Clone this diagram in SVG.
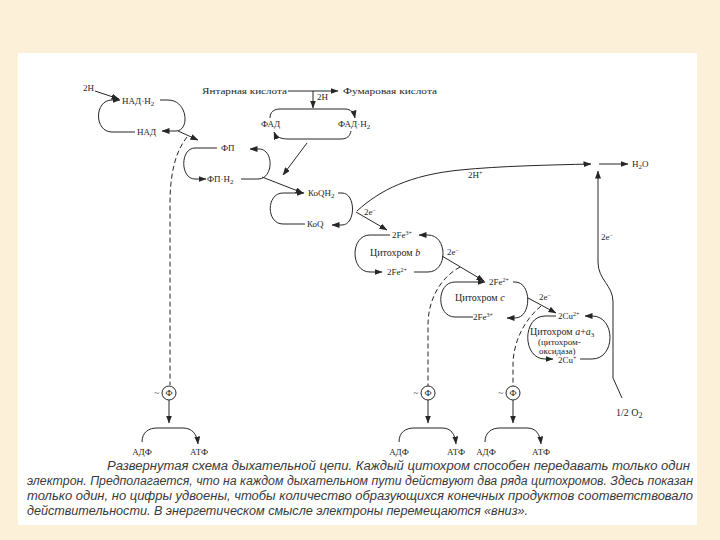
<svg xmlns="http://www.w3.org/2000/svg" width="720" height="540" viewBox="0 0 720 540">
<style>
.l{fill:none;stroke:#262626;stroke-width:1}
.d{stroke-dasharray:5,3}
.a{marker-end:url(#ah)}
.t{font-family:"Liberation Serif",serif;font-size:9px;fill:#262626}
.m{font-family:"Liberation Serif",serif;font-size:10px;fill:#262626}
.c{font-family:"Liberation Sans",Arial,sans-serif;font-size:12px;font-style:italic;fill:#3a3a3a}
.ring{fill:#fff;stroke:#262626;stroke-width:1}
</style>
<defs>
<marker id="ah" markerUnits="userSpaceOnUse" markerWidth="8" markerHeight="6" refX="7.5" refY="3" orient="auto">
<path d="M0,0 L8,3 L0,6 z" fill="#262626"/>
</marker>
</defs>
<rect width="720" height="540" fill="#fdf0d8"/>
<rect x="18" y="53" width="679" height="472" fill="#ffffff"/>

<g id="connectors">
<path class="l a" d="M95,91 L119,99"/>
<path class="l a" d="M178,131 L198,140"/>
<path class="l d" d="M187,137 C173,155 170,180 170,205 L170,385"/>
<path class="l a" d="M288,91 L338,91"/>
<path class="l a" d="M313,91 L313,108"/>
<path class="l a" d="M307,143 L283,175"/>
<path class="l a" d="M262,177 L303,193"/>
<path class="l a" d="M356,212 L387,230"/>
<path class="l a" d="M357,211 C380,190 410,175 460,170 C500,166 550,165 591,164"/>
<path class="l a" d="M599,164 L628,164"/>
<path class="l a" d="M622,398 L613,378 L613,302 C613,285 598,280 598,262 L598,171"/>
<path class="l a" d="M442,256 L484,281"/>
<path class="l d" d="M460,267 C440,278 428,300 428,325 L428,386"/>
<path class="l a" d="M528,298 L556,313"/>
<path class="l d" d="M541,306 C522,322 513,345 513,365 L513,386"/>
</g>

<g id="nad">
<text class="t" x="83" y="91">2H</text>
<text class="t" x="122" y="104">НАД·H<tspan font-size="7" dy="2">2</tspan></text>
<text class="t" x="137" y="135">НАД</text>
<path class="l a" d="M135,132 L112,132 C94,132 94,100 112,100 L120,100"/>
<path class="l a" d="M160,100 L168,100 C188,100 190,131 176,131 L162,131"/>
</g>

<g id="succinate">
<text class="t" x="202" y="94" textLength="85" lengthAdjust="spacingAndGlyphs">Янтарная кислота</text>
<text class="t" x="343" y="94" textLength="94" lengthAdjust="spacingAndGlyphs">Фумаровая кислота</text>
<text class="t" x="317" y="100" font-size="8">2H</text>
</g>

<g id="fad">
<text class="t" x="261" y="127">ФАД</text>
<text class="t" x="338" y="127">ФАД·H<tspan font-size="7" dy="2">2</tspan></text>
<path class="l a" d="M270,118 C270,112 274,109 280,109 L345,109 C351,109 354,113 355,118"/>
<path class="l a" d="M351,131 C350,136 347,139 341,139 L288,139 C281,139 276,137 274,132"/>
</g>

<g id="fp">
<text class="t" x="221" y="151">ФП</text>
<text class="t" x="207" y="182">ФП·H<tspan font-size="7" dy="2">2</tspan></text>
<path class="l a" d="M217,148 L195,148 C180,148 180,179 195,179 L206,179"/>
<path class="l a" d="M241,179 L258,179 C274,179 274,149 259,149 L250,149"/>
</g>

<g id="coq">
<text class="t" x="308" y="196">КоQH<tspan font-size="7" dy="2">2</tspan></text>
<text class="t" x="307" y="227">КоQ</text>
<path class="l a" d="M305,224 L283,224 C266,224 266,193 283,193 L304,193"/>
<path class="l a" d="M338,193 L342,193 C356,193 356,225 342,225 L332,225"/>
<text class="t" x="364" y="215" font-size="8">2e<tspan dy="-3" font-size="6">−</tspan></text>
<text class="t" x="468" y="178" font-size="8">2H<tspan dy="-3" font-size="6">+</tspan></text>
<text class="t" x="632" y="167">H<tspan font-size="7" dy="2">2</tspan><tspan dy="-2">O</tspan></text>
<text class="t" x="601" y="240" font-size="8">2e<tspan dy="-3" font-size="6">−</tspan></text>
<text class="m" x="616" y="416">1/2 O<tspan font-size="8" dy="2">2</tspan></text>
</g>

<g id="cyt-b">
<text class="t" x="392" y="238" font-size="8">2Fe<tspan dy="-3" font-size="6">3+</tspan></text>
<text class="m" x="370" y="256">Цитохром <tspan font-style="italic">b</tspan></text>
<text class="t" x="387" y="275" font-size="8">2Fe<tspan dy="-3" font-size="6">2+</tspan></text>
<path class="l a" d="M390,235 L370,235 C350,235 350,272 370,272 L382,272"/>
<path class="l a" d="M414,272 L428,272 C448,272 448,235 428,235 L419,235"/>
<text class="t" x="447" y="255" font-size="8">2e<tspan dy="-3" font-size="6">−</tspan></text>
</g>

<g id="cyt-c">
<text class="t" x="489" y="285" font-size="8">2Fe<tspan dy="-3" font-size="6">2+</tspan></text>
<text class="m" x="455" y="301">Цитохром <tspan font-style="italic">c</tspan></text>
<text class="t" x="473" y="320" font-size="8">2Fe<tspan dy="-3" font-size="6">3+</tspan></text>
<path class="l a" d="M473,317 L455,317 C436,317 436,282 455,282 L485,282"/>
<path class="l a" d="M513,282 L515,282 C532,282 532,318 515,318 L507,318"/>
<text class="t" x="539" y="300" font-size="8">2e<tspan dy="-3" font-size="6">−</tspan></text>
</g>

<g id="cyt-aa3">
<text class="t" x="558" y="319" font-size="8">2Cu<tspan dy="-3" font-size="6">2+</tspan></text>
<text class="m" x="530" y="335">Цитохром <tspan font-style="italic">a</tspan>+<tspan font-style="italic">a</tspan><tspan font-size="7" dy="2">3</tspan></text>
<text class="t" x="538" y="345">(цитохром-</text>
<text class="t" x="539" y="354">оксидаза)</text>
<text class="t" x="558" y="363" font-size="8">2Cu<tspan dy="-3" font-size="6">+</tspan></text>
<path class="l a" d="M556,316 L545,316 C522,316 522,359 545,359 L553,359"/>
<path class="l a" d="M580,359 L592,359 C616,359 616,316 592,316 L585,316"/>
</g>

<g id="phos-1">
<circle class="ring" cx="169" cy="393" r="7"/>
<text class="t" x="169" y="396" font-size="8" text-anchor="middle">Ф</text>
<text class="t" x="157" y="396" text-anchor="middle">~</text>
<path class="l a" d="M169,400 L169,423"/>
<path class="l a" d="M142,442 C142,432 149,428 157,428 L183,428 C192,428 197,434 198,444"/>
<text class="t" x="142" y="455" text-anchor="middle">АДФ</text>
<text class="t" x="199" y="455" text-anchor="middle">АТФ</text>
</g>

<g id="phos-2">
<circle class="ring" cx="428" cy="393" r="7"/>
<text class="t" x="428" y="396" font-size="8" text-anchor="middle">Ф</text>
<text class="t" x="416" y="396" text-anchor="middle">~</text>
<path class="l a" d="M428,400 L428,423"/>
<path class="l a" d="M399,442 C399,432 406,428 414,428 L442,428 C451,428 455,434 456,444"/>
<text class="t" x="399" y="455" text-anchor="middle">АДФ</text>
<text class="t" x="456" y="455" text-anchor="middle">АТФ</text>
</g>

<g id="phos-3">
<circle class="ring" cx="513" cy="393" r="7"/>
<text class="t" x="513" y="396" font-size="8" text-anchor="middle">Ф</text>
<text class="t" x="501" y="396" text-anchor="middle">~</text>
<path class="l a" d="M513,400 L513,423"/>
<path class="l a" d="M485,442 C485,432 492,428 500,428 L527,428 C536,428 540,434 541,444"/>
<text class="t" x="486" y="455" text-anchor="middle">АДФ</text>
<text class="t" x="541" y="455" text-anchor="middle">АТФ</text>
</g>

<g id="caption">
<text class="c" x="107" y="470" textLength="583" lengthAdjust="spacingAndGlyphs">Развернутая схема дыхательной цепи. Каждый цитохром способен передавать только один</text>
<text class="c" x="27" y="485" textLength="666" lengthAdjust="spacingAndGlyphs">электрон. Предполагается, что на каждом дыхательном пути действуют два ряда цитохромов. Здесь показан</text>
<text class="c" x="27" y="500" textLength="666" lengthAdjust="spacingAndGlyphs">только один, но цифры удвоены, чтобы количество образующихся конечных продуктов соответствовало</text>
<text class="c" x="27" y="515" textLength="501" lengthAdjust="spacingAndGlyphs">действительности. В энергетическом смысле электроны перемещаются «вниз».</text>
</g>
</svg>
